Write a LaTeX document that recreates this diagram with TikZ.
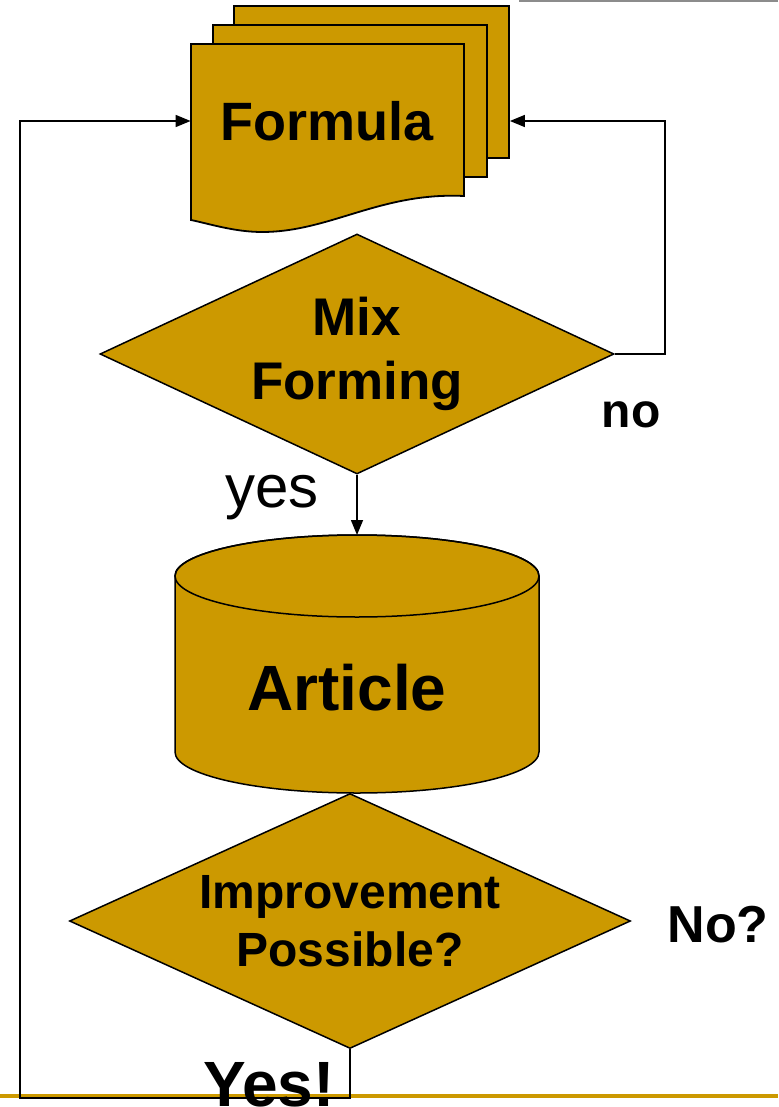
\documentclass[tikz,border=0pt]{standalone}
\usepackage{fontspec}
\setmainfont{Liberation Sans}
\usetikzlibrary{shapes.geometric,arrows.meta}
\definecolor{gold}{HTML}{CC9900}
\begin{document}
\begin{tikzpicture}[x=0.5pt,y=-0.5pt,
    sheet/.style={draw, fill=gold, line width=0.9pt, inner sep=0pt},
    decision/.style={diamond, draw, fill=gold, line width=0.75pt, inner sep=0pt, align=center},
    flow/.style={line width=0.75pt, -{Triangle[length=7.5pt,width=6pt]}}]
  \useasboundingbox (0,0) rectangle (778,1107);

  % Bandas
  \draw[gray!90, line width=1.5pt] (519,1) -- (778,1);
  \draw[gold, line width=2pt] (0,1096) -- (778,1096);

  % Pila de hojas (Formula)
  \node[sheet, minimum width=137.5pt, minimum height=76pt] (sheetC) at (371.5,82) {};
  \node[sheet, minimum width=137pt, minimum height=76pt] (sheetB) at (350,101) {};
  \draw[sheet] (191,44) -- (464,44) -- (464,196)
       .. controls (380,192) and (330,232) .. (262,232)
       .. controls (235,232) and (210,224) .. (191,220) -- cycle;
  \node[font=\bfseries\fontsize{27}{32}\selectfont, minimum width=136.5pt] (formula) at (327.5,121) {Formula\hspace{7pt}};

  % Decision: Mix Forming
  \node[decision, aspect=2.14, minimum width=257pt, minimum height=120pt,
        font=\bfseries\fontsize{26.5}{32}\selectfont] (mix) at (357,354) {Mix\\Forming};

  % Cilindro (Article)
  \coordinate (cyltop) at (357,535);
  \draw[sheet, line width=0.75pt] (175,576) -- (175,752)
       arc[start angle=180, end angle=0, x radius=182, y radius=41]
       -- (539,576) arc[start angle=0, end angle=-180, x radius=182, y radius=41] -- cycle;
  \draw[line width=0.75pt] (357,576) ellipse[x radius=182, y radius=41];
  \node[font=\bfseries\fontsize{32}{38}\selectfont] (article) at (347,688) {Article};

  % Decision: Improvement Possible?
  \node[decision, aspect=2.2, minimum width=280.5pt, minimum height=127.5pt,
        font=\bfseries\fontsize{24}{29}\selectfont] (improve) at (350,921) {Improvement\\Possible?};

  % Conectores
  \coordinate (loopcorner) at (20,1098);
  \draw[flow] (mix.south) -- (cyltop);
  \draw[flow] (mix.east) -- ++(50,0) |- (sheetC.east |- formula.center);
  \draw[flow] (improve.south) |- (loopcorner) |- (formula.west);

  % Etiquetas
  \node[anchor=base, font=\fontsize{30}{36}\selectfont] (yeslbl) at (272,507) {yes};
  \node[anchor=base, font=\bfseries\fontsize{24}{29}\selectfont] (nolbl) at (631,427) {no};
  \node[anchor=base, font=\bfseries\fontsize{26}{31}\selectfont] (nolbl2) at (718,942) {No?};
  \node[anchor=base, font=\bfseries\fontsize{32}{38}\selectfont] (yeslbl2) at (269,1106) {Yes!};
\end{tikzpicture}
\end{document}
